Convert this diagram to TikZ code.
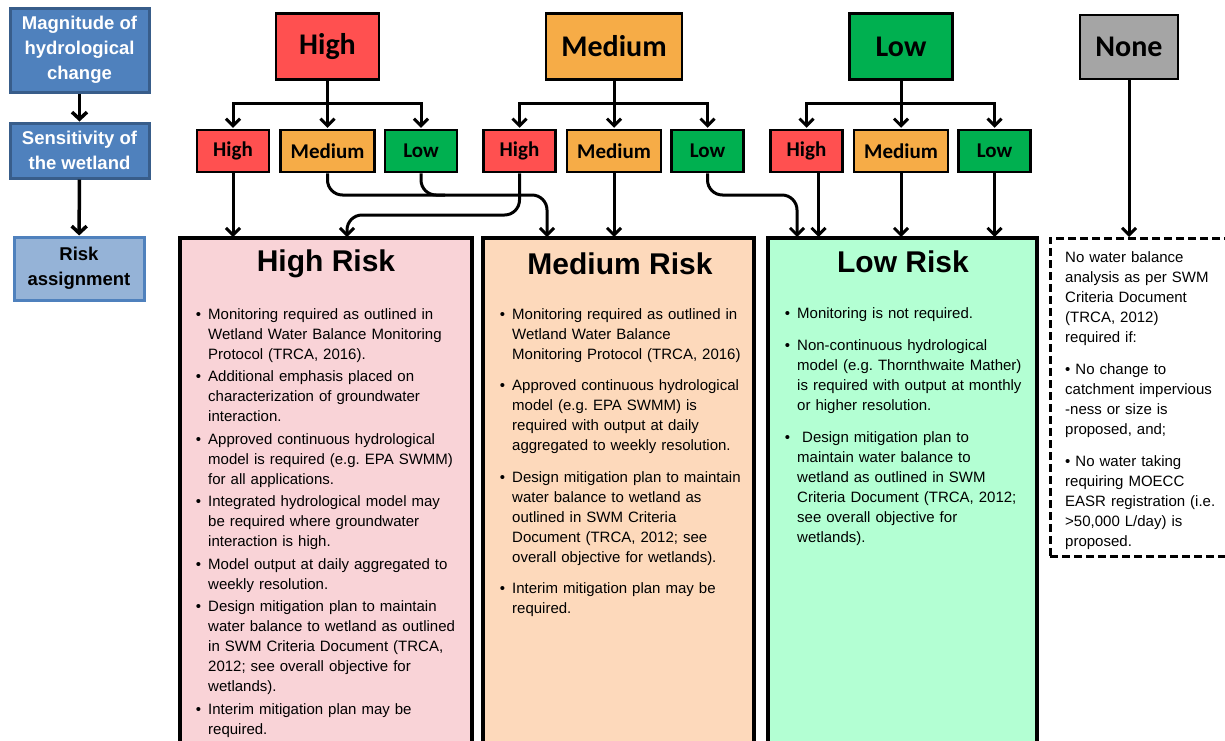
\documentclass[tikz,border=0pt]{standalone}
\usepackage{fontspec}
\setmainfont{Liberation Sans}
\newfontfamily\calfont{Carlito}
\usepackage{enumitem}
\usetikzlibrary{arrows.meta,positioning}

\definecolor{hired}{HTML}{FF5050}
\definecolor{medorange}{HTML}{F6AC47}
\definecolor{logreen}{HTML}{00B050}
\definecolor{nonegray}{HTML}{A5A5A5}
\definecolor{hipink}{HTML}{F9D3D7}
\definecolor{medpeach}{HTML}{FDD9BB}
\definecolor{lomint}{HTML}{B3FFD3}
\definecolor{stepblue}{HTML}{4F81BD}
\definecolor{stepline}{HTML}{385D8A}
\definecolor{lightblue}{HTML}{95B3D7}

\setlist[itemize]{label=\textbullet, leftmargin=14pt, labelsep=7pt, topsep=0pt, partopsep=0pt, parsep=0pt}

\tikzset{
  level/.style={draw=black, line width=2.5pt, font=\calfont\bfseries\fontsize{30}{36}\selectfont,
    minimum width=103pt, minimum height=66pt, inner sep=0pt},
  sublevel/.style={draw=black, line width=2.5pt, font=\calfont\bfseries\fontsize{21}{25}\selectfont,
    minimum width=72pt, minimum height=42pt, inner sep=0pt},
  stepbox/.style={draw=stepline, fill=stepblue, line width=3pt, text=white, align=center,
    font=\bfseries\fontsize{18.5}{25}\selectfont, minimum width=139pt, inner sep=0pt},
  link/.style={line width=3pt, -{Straight Barb[length=7pt,width=14pt]}, shorten >=1pt},
  steplink/.style={line width=3.5pt, -{Straight Barb[length=7pt,width=15pt]}},
  riskbox/.style={draw=black, line width=4pt, anchor=north west, outer sep=0pt, minimum height=600pt},
  risktitle/.style={font=\bfseries\fontsize{30}{36}\selectfont},
  risktext/.style={anchor=north west, align=left, inner sep=0pt, font=\fontsize{15}{20}\selectfont}
}

\begin{document}
\begin{tikzpicture}[x=1pt,y=-1pt]
  \clip (0,0) rectangle (1225,740);
  % Steps on the left
  \node[stepbox, minimum height=84pt] (magn) at (79.5,50) {Magnitude of\\hydrological\\change};
  \node[stepbox, minimum height=55pt] (sens) at (79.5,150.5) {Sensitivity of\\the wetland};
  \node[stepbox, draw=stepblue, fill=lightblue, text=black, minimum width=130pt, minimum height=63pt]
    (assign) at (79,268.5) {Risk\\assignment};
  \draw[steplink] (magn) -- (sens);
  \draw[steplink] (sens) -- (assign);

  % Magnitude of change
  \node[level, fill=hired] (bigH) at (327.5,46.5) {High};
  \node[level, fill=medorange, minimum width=136pt] (bigM) at (614,46.5) {Medium};
  \node[level, fill=logreen] (bigL) at (901,46.5) {Low};
  \node[level, fill=nonegray, minimum width=98pt, minimum height=64pt] (bigN) at (1129,47) {None};

  % Sensitivity of the wetland
  \node[sublevel, fill=medorange, minimum width=94pt, below=48pt of bigH] (m1) {Medium};
  \node[sublevel, fill=hired, left=9pt of m1] (h1) {High};
  \node[sublevel, fill=logreen, right=8pt of m1] (l1) {Low};
  \node[sublevel, fill=medorange, minimum width=94pt, below=48pt of bigM] (m2) {Medium};
  \node[sublevel, fill=hired, left=9pt of m2] (h2) {High};
  \node[sublevel, fill=logreen, right=8pt of m2] (l2) {Low};
  \node[sublevel, fill=medorange, minimum width=94pt, below=48pt of bigL] (m3) {Medium};
  \node[sublevel, fill=hired, left=9pt of m3] (h3) {High};
  \node[sublevel, fill=logreen, right=8pt of m3] (l3) {Low};

  \foreach \lev/\ha/\mb/\lc in {bigH/h1/m1/l1, bigM/h2/m2/l2, bigL/h3/m3/l3} {
    \draw[line width=3pt] (\lev.south) -- ++(0,23) coordinate (fork);
    \draw[link] (fork) -| (\ha.north);
    \draw[link] (fork) -| (\lc.north);
    \draw[link] (fork) -- (\mb.north);
  }

  % Risk boxes
  \node[riskbox, fill=hipink, minimum width=292pt] (hrisk) at (180,238) {};
  \node[riskbox, fill=medpeach, minimum width=271pt] (mrisk) at (483,238) {};
  \node[riskbox, fill=lomint, minimum width=269pt] (lrisk) at (768,238) {};
  \node[draw=black, line width=3pt, dash pattern=on 8pt off 4pt, anchor=north west, outer sep=0pt,
    minimum width=220pt, minimum height=318pt] (nrisk) at (1050,238) {};

  % Connectors into the risk boxes
  \coordinate (hin) at (347,215);
  \coordinate (min) at (547,195);
  \coordinate (lin) at (797,195);
  \coordinate (lmerge) at (445,195);
  \draw[link] (h1.south) -- (h1.south |- hrisk.north);
  \draw[link] (h2.south) [rounded corners=15pt] |- (hin) [sharp corners] -- (hin |- hrisk.north);
  \draw[link] (m1.south) [rounded corners=15pt] |- (min) [sharp corners] -- (min |- mrisk.north);
  \draw[line width=3pt] (l1.south) [rounded corners=15pt] |- (lmerge);
  \draw[link] (m2.south) -- (m2.south |- mrisk.north);
  \draw[link] (l2.south) [rounded corners=15pt] |- (lin) [sharp corners] -- (lin |- lrisk.north);
  \draw[link] ([xshift=12pt]h3.south) -- ([xshift=12pt]h3.south |- lrisk.north);
  \draw[link] (m3.south) -- (m3.south |- lrisk.north);
  \draw[link] (l3.south) -- (l3.south |- lrisk.north);
  \draw[link] (bigN.south) -- (bigN.south |- nrisk.north);

  % Titles
  \node[risktitle] (hrtitle) at (326,264) {High Risk};
  \node[risktitle] (mrtitle) at (620,264) {Medium Risk};
  \node[risktitle] (lrtitle) at (903,262) {Low Risk};

  % Texts
  \node[risktext, text width=275pt] (hrtext) at (194,299) {%
    \begin{itemize}[itemsep=2.5pt]
      \item Monitoring required as outlined in\\Wetland Water Balance Monitoring\\Protocol (TRCA, 2016).
      \item Additional emphasis placed on\\characterization of groundwater\\interaction.
      \item Approved continuous hydrological\\model is required (e.g.\ EPA SWMM)\\for all applications.
      \item Integrated hydrological model may\\be required where groundwater\\interaction is high.
      \item Model output at daily aggregated to\\weekly resolution.
      \item Design mitigation plan to maintain\\water balance to wetland as outlined\\in SWM Criteria Document (TRCA,\\2012; see overall objective for\\wetlands).
      \item Interim mitigation plan may be\\required.
    \end{itemize}};
  \node[risktext, text width=262pt] (mrtext) at (498,299) {%
    \begin{itemize}[itemsep=11.5pt]
      \item Monitoring required as outlined in\\Wetland Water Balance\\Monitoring Protocol (TRCA, 2016)
      \item Approved continuous hydrological\\model (e.g.\ EPA SWMM) is\\required with output at daily\\aggregated to weekly resolution.
      \item Design mitigation plan to maintain\\water balance to wetland as\\outlined in SWM Criteria\\Document (TRCA, 2012; see\\overall objective for wetlands).
      \item Interim mitigation plan may be\\required.
    \end{itemize}};
  \node[risktext, text width=255pt] (lrtext) at (783,298) {%
    \begin{itemize}[itemsep=12pt]
      \item Monitoring is not required.
      \item Non-continuous hydrological\\model (e.g.\ Thornthwaite Mather)\\is required with output at monthly\\or higher resolution.
      \item \ Design mitigation plan to\\maintain water balance to\\wetland as outlined in SWM\\Criteria Document (TRCA, 2012;\\see overall objective for\\wetlands).
    \end{itemize}};
  \node[risktext, text width=165pt] (nrtext) at (1065,251) {%
    No water balance\\analysis as per SWM\\Criteria Document\\(TRCA, 2012)\\required if:\par\vspace{12pt}
    \textbullet\ No change to\\catchment impervious\\-ness or size is\\proposed, and;\par\vspace{12pt}
    \textbullet\ No water taking\\requiring MOECC\\EASR registration (i.e.\\>50,000 L/day) is\\proposed.};
\end{tikzpicture}
\end{document}
